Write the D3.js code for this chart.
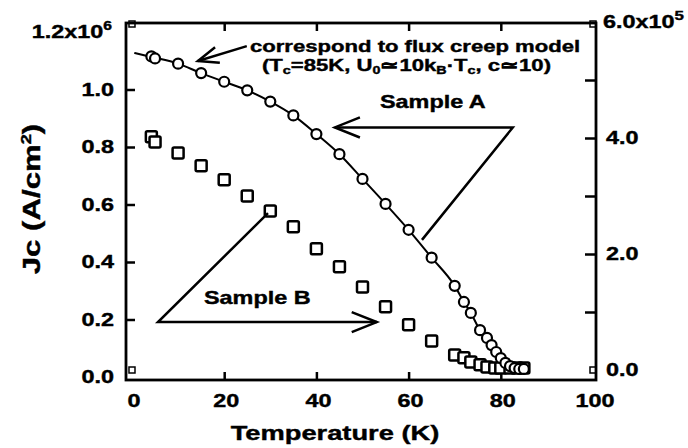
<!DOCTYPE html>
<html>
<head>
<meta charset="utf-8">
<script src="https://cdn.jsdelivr.net/npm/d3@7"></script>
<style>
body { margin: 0; background: #fff; }
text { font-family: "Liberation Sans", Arial, sans-serif; font-weight: bold; fill: #000; stroke: #000; stroke-width: 0.4px; }
</style>
</head>
<body>
<script>
// Sample A, left axis (x10^6 A/cm2)
var tempA = [4.2, 5, 10, 15, 20, 25, 30, 35, 40, 45, 50, 55, 60, 65, 70, 72, 73.5, 75.5, 77, 78, 79, 80, 81, 82, 83, 84, 85];
var jcA = [1.115, 1.108, 1.09, 1.057, 1.027, 0.997, 0.958, 0.91, 0.845, 0.775, 0.689, 0.602, 0.512, 0.415, 0.317, 0.261, 0.223, 0.163, 0.136, 0.111, 0.087, 0.066, 0.049, 0.038, 0.031, 0.028, 0.028];

// flux creep model curve drawn through sample A
var modelT = [0.5, 4.2, 10, 15, 20, 25, 30, 35, 40, 45, 50, 55, 60, 65, 70, 72, 73.5, 75.5, 77, 78, 79, 80, 81, 82, 83];
var modelJc = [1.127, 1.113, 1.09, 1.057, 1.027, 0.997, 0.958, 0.91, 0.845, 0.775, 0.689, 0.602, 0.512, 0.415, 0.317, 0.261, 0.223, 0.163, 0.136, 0.111, 0.087, 0.066, 0.049, 0.038, 0.03];

// Sample B, right axis (x10^5 A/cm2)
var tempB = [4.2, 5, 10, 15, 20, 25, 30, 35, 40, 45, 50, 55, 60, 65, 70, 72, 73.5, 75.5, 77, 78.7, 80, 82, 83.5, 85];
var jcB = [4.02, 3.93, 3.74, 3.52, 3.28, 3.0, 2.74, 2.47, 2.09, 1.78, 1.43, 1.09, 0.78, 0.5, 0.26, 0.21, 0.14, 0.09, 0.05, 0.035, 0.035, 0.035, 0.035, 0.035];

var xTicks = [0, 20, 40, 60, 80, 100];
var leftTicks = [0, 0.2, 0.4, 0.6, 0.8, 1.0];
var leftLabels = ["0.0", "0.2", "0.4", "0.6", "0.8", "1.0"];
var rightTicks = [0, 1, 2, 3, 4, 5, 6];
var rightLabelVals = [0, 2, 4];
var rightLabels = ["0.0", "2.0", "4.0"];

var margin = {top: 23, left: 126};
var width = 470, height = 357;
var sx = 1.3; // the scanned lettering is wide

var x = d3.scaleLinear().domain([-1.3, 100.65]).range([0, width]);
var yL = d3.scaleLinear().domain([0, 1.2]).range([354, 9]);
var yR = d3.scaleLinear().domain([0, 6]).range([347, -1]);

var svg = d3.select("body").append("svg")
    .attr("width", 688)
    .attr("height", 448);

var g = svg.append("g")
    .attr("transform", "translate(" + margin.left + "," + margin.top + ")");

// stretched text, placed at (px,py) in svg coordinates
function wideText(px, py, anchor, size, str) {
    return svg.append("text")
        .attr("transform", "translate(" + px + "," + py + ") scale(" + sx + ",1)")
        .attr("text-anchor", anchor)
        .style("font-size", size + "px")
        .text(str);
}

// ticks, all pointing inwards
function styleTicks(sel) {
    sel.select(".domain").remove();
    sel.selectAll(".tick line").attr("stroke", "#000").attr("stroke-width", 2.5);
}

g.append("g").attr("transform", "translate(0," + height + ")")
    .call(d3.axisBottom(x).tickValues([20, 40, 60, 80]).tickSize(-8).tickFormat(""))
    .call(styleTicks);
g.append("g")
    .call(d3.axisTop(x).tickValues([20, 40, 60, 80]).tickSize(-8).tickFormat(""))
    .call(styleTicks);
g.append("g")
    .call(d3.axisLeft(yL).tickValues(leftTicks.slice(1)).tickSize(-9).tickFormat(""))
    .call(styleTicks);
g.append("g").attr("transform", "translate(" + width + ",0)")
    .call(d3.axisRight(yR).tickValues(rightTicks.slice(1, 6)).tickSize(-11).tickFormat(""))
    .call(styleTicks);

// frame
g.append("rect")
    .attr("width", width)
    .attr("height", height)
    .attr("fill", "none")
    .attr("stroke", "#000")
    .attr("stroke-width", 2.8);

// small corner markers left by the plotting program
var cornerT = [0, 0, 100, 100];
var cornerV = [0, 6, 0, 6];
g.selectAll(".corner")
    .data(cornerT)
    .enter().append("rect")
    .attr("class", "corner")
    .attr("x", function(d) { return x(d) - 3; })
    .attr("y", function(d, i) { return yR(cornerV[i]) - 3 + (cornerV[i] ? 2 : 0); })
    .attr("width", 6)
    .attr("height", 6)
    .attr("fill", "none")
    .attr("stroke", "#000")
    .attr("stroke-width", 1.5);

// tick labels
xTicks.forEach(function(t) {
    wideText(margin.left + x(t) + 2, 407, "middle", 18, t);
});
leftTicks.forEach(function(v, i) {
    wideText(114, margin.top + yL(v) + 6, "end", 18, leftLabels[i]);
});
var topL = wideText(112, margin.top + yL(1.2) + 6, "end", 18, "1.2x10");
topL.append("tspan").attr("dy", -8).style("font-size", "12px").text("6");

rightLabelVals.forEach(function(v, i) {
    wideText(606, margin.top + yR(v) + 6, "start", 18, rightLabels[i]);
});
var topR = wideText(603, margin.top + yR(6) + 6, "start", 18, "6.0x10");
topR.append("tspan").attr("dy", -8).style("font-size", "13px").text("5");

// axis titles
wideText(335, 440, "middle", 21, "Temperature (K)");
var yTitle = svg.append("text")
    .attr("transform", "translate(40,199) rotate(-90) scale(1.3,1)")
    .attr("text-anchor", "middle")
    .style("font-size", "24px")
    .text("Jc (A/cm");
yTitle.append("tspan").attr("dy", -9).style("font-size", "14px").text("2");
yTitle.append("tspan").attr("dy", 9).text(")");

// model curve
var line = d3.line()
    .x(function(d) { return x(d[0]); })
    .y(function(d) { return yL(d[1]); })
    .curve(d3.curveMonotoneX);

g.append("path")
    .datum(d3.zip(modelT, modelJc))
    .attr("d", line)
    .attr("fill", "none")
    .attr("stroke", "#000")
    .attr("stroke-width", 2);

// sample B squares
g.selectAll(".sq")
    .data(d3.zip(tempB, jcB))
    .enter().append("rect")
    .attr("class", "sq")
    .attr("x", function(d) { return x(d[0]) - 5.5; })
    .attr("y", function(d) { return yR(d[1]) - 5.5; })
    .attr("width", 11)
    .attr("height", 11)
    .attr("rx", 1.5)
    .attr("fill", "#fff")
    .attr("stroke", "#000")
    .attr("stroke-width", 2.5);

// sample A circles
g.selectAll(".dot")
    .data(d3.zip(tempA, jcA))
    .enter().append("circle")
    .attr("class", "dot")
    .attr("cx", function(d) { return x(d[0]); })
    .attr("cy", function(d) { return yL(d[1]); })
    .attr("r", 5)
    .attr("fill", "#fff")
    .attr("stroke", "#000")
    .attr("stroke-width", 2.2);

// annotations, anchored in data units of the left axis
function pt(t, v) { return [x(t), yL(v)]; }
function arrow(pts, headLen) {
    g.append("path")
        .attr("d", d3.line()(pts))
        .attr("fill", "none")
        .attr("stroke", "#000")
        .attr("stroke-width", 2.5)
        .attr("stroke-linejoin", "miter");
    var tip = pts[pts.length - 1], from = pts[pts.length - 2];
    var a = Math.atan2(from[1] - tip[1], from[0] - tip[0]);
    var w = 0.38;
    g.append("path")
        .attr("d", d3.line()([
            [tip[0] + headLen * Math.cos(a - w), tip[1] + headLen * Math.sin(a - w)],
            tip,
            [tip[0] + headLen * Math.cos(a + w), tip[1] + headLen * Math.sin(a + w)]
        ]))
        .attr("fill", "none")
        .attr("stroke", "#000")
        .attr("stroke-width", 2.5);
}

arrow([pt(24.9, 1.151), pt(14.3, 1.099)], 22);
arrow([pt(62.9, 0.477), pt(82.6, 0.868), pt(44.0, 0.868)], 27);
arrow([pt(29.5, 0.570), pt(5.64, 0.191), pt(53.1, 0.191)], 27);

wideText(250, 52, "start", 17, "correspond to flux creep model");
var params = wideText(262, 71, "start", 17, "(T");
params.append("tspan").attr("dy", 3).style("font-size", "11px").text("c");
params.append("tspan").attr("dy", -3).text("=85K, U");
params.append("tspan").attr("dy", 3).style("font-size", "11px").text("0");
params.append("tspan").attr("dy", -3).text("\u224310k");
params.append("tspan").attr("dy", 3).style("font-size", "11px").text("B");
params.append("tspan").attr("dy", -3).text("\u00b7T");
params.append("tspan").attr("dy", 3).style("font-size", "11px").text("c");
params.append("tspan").attr("dy", -3).text(", c\u224310)");

wideText(380, 108, "start", 18, "Sample A");
wideText(204, 304, "start", 18, "Sample B");
</script>
</body>
</html>
